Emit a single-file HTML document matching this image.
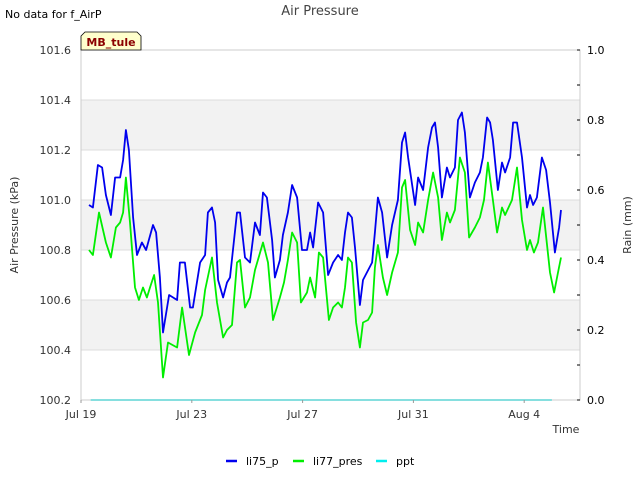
<!DOCTYPE html>
<html><head><meta charset="utf-8"><style>
body{margin:0;background:#fff;font-family:"DejaVu Sans","Liberation Sans",sans-serif;}
svg text{font-family:"DejaVu Sans","Liberation Sans",sans-serif;}
</style></head><body>
<svg id="chart" width="640" height="480" xmlns="http://www.w3.org/2000/svg">
<rect x="0" y="0" width="640" height="480" fill="#fff"/>
<g id="bands"></g>
<g id="grid"></g>
<g id="series"></g>
<rect x="81" y="50" width="499" height="350" fill="none" stroke="#ccc"/>
<g id="axes"></g>
<text x="320" y="15" text-anchor="middle" font-size="13" fill="#444">Air Pressure</text>
<text x="5" y="18" font-size="11" fill="#000">No data for f_AirP</text>
<path d="M81,50 L81,36 L85,32 L137,32 L141,36 L141,50 Z" fill="#ffffcc" stroke="#000" stroke-width="0.8"/>
<text x="111" y="46" text-anchor="middle" font-size="11" font-weight="bold" fill="#8b0000">MB_tule</text>
<text transform="translate(18,225) rotate(-90)" text-anchor="middle" font-size="11" fill="#333">Air Pressure (kPa)</text>
<text transform="translate(631,225) rotate(-90)" text-anchor="middle" font-size="11" fill="#333">Rain (mm)</text>
<text x="566" y="433" text-anchor="middle" font-size="11" fill="#333">Time</text>
<g>
<g><line x1="226" y1="461" x2="237" y2="461" stroke="#0000ee" stroke-width="2.5"/><text x="246" y="465" font-size="11" fill="#000">li75_p</text></g>
<g><line x1="293" y1="461" x2="304" y2="461" stroke="#00ee00" stroke-width="2.5"/><text x="313" y="465" font-size="11" fill="#000">li77_pres</text></g>
<g><line x1="376" y1="461" x2="387" y2="461" stroke="#00eeee" stroke-width="2.5"/><text x="396" y="465" font-size="11" fill="#000">ppt</text></g>
</g>
</svg>
<script>
const xTickLabels=["Jul 19","Jul 23","Jul 27","Jul 31","Aug 4"];
const xTickDays=[0,4,8,12,16];
const yTicks=[100.2,100.4,100.6,100.8,101.0,101.2,101.4,101.6];
const y2Ticks=[0,0.2,0.4,0.6,0.8,1.0];
const blueDays=[0.29,0.43,0.61,0.76,0.90,1.08,1.23,1.41,1.52,1.62,1.73,1.88,2.02,2.20,2.35,2.60,2.71,2.85,2.96,3.18,3.47,3.57,3.75,3.94,4.04,4.30,4.48,4.58,4.73,4.84,4.95,5.13,5.27,5.38,5.63,5.74,5.92,6.10,6.28,6.46,6.57,6.71,6.90,7.00,7.18,7.29,7.47,7.62,7.80,7.98,8.16,8.27,8.38,8.56,8.74,8.92,9.10,9.28,9.42,9.53,9.64,9.78,9.89,10.07,10.18,10.32,10.51,10.61,10.72,10.87,11.05,11.23,11.44,11.59,11.70,11.81,12.06,12.17,12.35,12.53,12.67,12.78,12.89,13.03,13.21,13.32,13.50,13.61,13.75,13.86,14.04,14.22,14.40,14.51,14.66,14.77,14.87,15.05,15.20,15.31,15.49,15.60,15.74,15.92,16.10,16.21,16.32,16.46,16.64,16.79,16.93,17.11,17.26,17.33];
const blueVals=[100.98,100.97,101.14,101.13,101.02,100.94,101.09,101.09,101.16,101.28,101.20,100.93,100.78,100.83,100.80,100.90,100.87,100.69,100.47,100.62,100.60,100.75,100.75,100.57,100.57,100.75,100.78,100.95,100.97,100.91,100.68,100.61,100.67,100.69,100.95,100.95,100.77,100.75,100.91,100.86,101.03,101.01,100.84,100.69,100.76,100.86,100.95,101.06,101.01,100.80,100.80,100.87,100.81,100.99,100.95,100.70,100.75,100.78,100.76,100.87,100.95,100.93,100.81,100.58,100.68,100.71,100.75,100.87,101.01,100.95,100.77,100.90,101.00,101.23,101.27,101.17,100.98,101.09,101.04,101.21,101.29,101.31,101.21,101.01,101.13,101.09,101.13,101.32,101.35,101.27,101.01,101.07,101.11,101.17,101.33,101.31,101.24,101.04,101.15,101.11,101.17,101.31,101.31,101.17,100.97,101.02,100.98,101.01,101.17,101.12,100.99,100.79,100.89,100.96];
const greenDays=[0.29,0.43,0.65,0.90,1.08,1.26,1.41,1.52,1.62,1.77,1.95,2.09,2.24,2.38,2.49,2.64,2.78,2.96,3.14,3.47,3.65,3.90,4.12,4.37,4.48,4.73,4.91,5.13,5.27,5.45,5.63,5.74,5.92,6.10,6.28,6.57,6.75,6.93,7.18,7.33,7.47,7.62,7.80,7.94,8.16,8.27,8.45,8.59,8.74,8.95,9.10,9.28,9.42,9.53,9.64,9.78,9.93,10.07,10.18,10.36,10.51,10.61,10.72,10.90,11.05,11.23,11.44,11.59,11.70,11.88,12.06,12.17,12.35,12.53,12.71,12.89,13.03,13.21,13.32,13.50,13.68,13.86,14.01,14.22,14.40,14.55,14.69,14.87,15.02,15.20,15.31,15.56,15.74,15.92,16.10,16.21,16.35,16.50,16.68,16.93,17.08,17.22,17.33];
const greenVals=[100.80,100.78,100.95,100.83,100.77,100.89,100.91,100.95,101.09,100.91,100.65,100.60,100.65,100.61,100.65,100.70,100.59,100.29,100.43,100.41,100.57,100.38,100.47,100.54,100.64,100.77,100.59,100.45,100.48,100.50,100.75,100.76,100.57,100.61,100.72,100.83,100.75,100.52,100.61,100.67,100.76,100.87,100.83,100.59,100.63,100.69,100.61,100.79,100.77,100.52,100.57,100.59,100.57,100.65,100.77,100.75,100.51,100.41,100.51,100.52,100.55,100.73,100.82,100.69,100.62,100.71,100.79,101.05,101.08,100.88,100.82,100.91,100.87,101.00,101.11,101.01,100.84,100.95,100.91,100.96,101.17,101.11,100.85,100.89,100.93,101.00,101.15,101.00,100.87,100.97,100.94,101.00,101.13,100.92,100.80,100.84,100.79,100.83,100.97,100.71,100.63,100.71,100.77];
const pptDays=[0.35,17.0];
const pptVals=[0,0];

const NS="http://www.w3.org/2000/svg";
const X0=81,X1=580,Y0=50,Y1=400,DAYPX=27.7;
function xs(d){return X0+d*DAYPX;}
function ys(v){return Y1-(v-100.2)/1.4*(Y1-Y0);}
function y2s(v){return Y1-v*(Y1-Y0);}
function mk(tag,attrs,parent){const e=document.createElementNS(NS,tag);for(const k in attrs)e.setAttribute(k,attrs[k]);parent.appendChild(e);return e;}
const bands=document.getElementById('bands'),grid=document.getElementById('grid'),axes=document.getElementById('axes'),series=document.getElementById('series');
for(let i=0;i<yTicks.length-1;i++){
  if(i%2===1){const b=mk('rect',{x:X0,y:ys(yTicks[i+1]),width:X1-X0,height:ys(yTicks[i])-ys(yTicks[i+1]),fill:'#f2f2f2'},bands);
  
  }
}
yTicks.forEach(v=>{
  const g=mk('line',{x1:X0,x2:X1,y1:ys(v),y2:ys(v),stroke:'#dcdcdc','stroke-width':1},grid);
  
  
  const t=mk('text',{x:X0-10,y:ys(v)+4,'text-anchor':'end','font-size':11,fill:'#333'},axes);
  
  
  t.textContent=v.toFixed(1);
});
y2Ticks.forEach(v=>{
  const t=mk('text',{x:587,y:y2s(v)+4,'font-size':11,fill:'#000'},axes);
  
  
  t.textContent=v.toFixed(1);
});
for(let i=0;i<=10;i++){const v=i/10;
  const l=mk('line',{x1:X1-3,x2:X1,y1:y2s(v),y2:y2s(v),stroke:'#000'},axes);
  
  }
xTickDays.forEach((d,i)=>{
  const l=mk('line',{x1:xs(d),x2:xs(d),y1:Y1,y2:Y1+3,stroke:'#999'},axes);
  
  
  const t=mk('text',{x:xs(d),y:Y1+18,'text-anchor':'middle','font-size':11,fill:'#333'},axes);
  
  
  t.textContent=xTickLabels[i];
});
function line(days,vals,sc,color,name){
  const p=days.map((d,i)=>(i?'L':'M')+xs(d).toFixed(1)+','+sc(vals[i]).toFixed(1)).join(' ');
  const e=mk('path',{d:p,fill:'none',stroke:color,'stroke-width':1.8,'stroke-linejoin':'round'},series);
  
  
}
line(pptDays,pptVals,y2s,'#00eeee','ppt-line');
line(greenDays,greenVals,ys,'#00ee00','li77-pres-line');
line(blueDays,blueVals,ys,'#0000ee','li75-p-line');
</script>
</body></html>
